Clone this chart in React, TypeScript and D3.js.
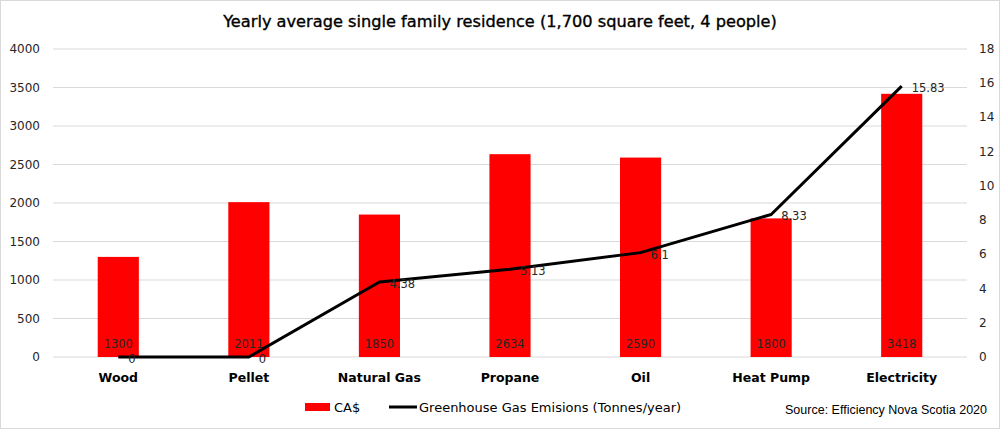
import React from "react";
import * as d3 from "d3";

const categories = ["Wood", "Pellet", "Natural Gas", "Propane", "Oil", "Heat Pump", "Electricity"];
const costCAD = [1300, 2011, 1850, 2634, 2590, 1800, 3418];
const emissions = [0, 0, 4.38, 5.13, 6.1, 8.33, 15.83];
const leftTicks = [0, 500, 1000, 1500, 2000, 2500, 3000, 3500, 4000];
const rightTicks = [0, 2, 4, 6, 8, 10, 12, 14, 16, 18];
const title = "Yearly average single family residence (1,700 square feet, 4 people)";
const barSeriesName = "CA$";
const lineSeriesName = "Greenhouse Gas Emisions (Tonnes/year)";
const sourceNote = "Source: Efficiency Nova Scotia 2020";

const W = 1000;
const H = 429;
const FONT = "'DejaVu Sans', Verdana, sans-serif";

export default function App() {
  const x = d3.scaleBand<string>().domain(categories).range([53, 967]).padding(0);
  const yL = d3.scaleLinear().domain([0, 4000]).range([357, 49]);
  const yR = d3.scaleLinear().domain([0, 18]).range([357, 49]);
  const bw = x.bandwidth() * 0.315;
  const cx = (c: string) => (x(c) as number) + x.bandwidth() / 2;

  const line = d3
    .line<number>()
    .x((_, i) => cx(categories[i]))
    .y((d) => yR(d));

  return (
    <svg
      width={W}
      height={H}
      style={{ position: "absolute", left: 0, top: 0, background: "#fff" }}
      fontFamily={FONT}
    >
      <rect x={0.5} y={0.5} width={W - 1} height={H - 1} fill="#fff" stroke="#d9d9d9" />
      <text x={500} y={21} textAnchor="middle" dominantBaseline="central" fontSize={16.2} fill="#000" stroke="#000" strokeWidth={0.35}>
        {title}
      </text>

      {leftTicks.map((t) => (
        <g key={"g" + t}>
          <line x1={53} x2={967} y1={yL(t)} y2={yL(t)} stroke="#d9d9d9" strokeWidth={1} />
          <text x={40} y={yL(t)} textAnchor="end" dominantBaseline="central" fontSize={12} fill="#262626">
            {t}
          </text>
        </g>
      ))}
      {rightTicks.map((t) => (
        <text key={"r" + t} x={979} y={yR(t)} textAnchor="start" dominantBaseline="central" fontSize={12} fill="#262626">
          {t}
        </text>
      ))}

      {categories.map((c, i) => (
        <g key={c}>
          <rect x={cx(c) - bw / 2} y={yL(costCAD[i])} width={bw} height={yL(0) - yL(costCAD[i])} fill="#ff0000" />
          <text x={cx(c)} y={377} textAnchor="middle" dominantBaseline="central" fontSize={12.5} fontWeight="bold" fill="#000">
            {c}
          </text>
          <text x={cx(c)} y={344} textAnchor="middle" dominantBaseline="central" fontSize={11.5} fill="#262626">
            {costCAD[i]}
          </text>
        </g>
      ))}

      <path d={line(emissions) || ""} fill="none" stroke="#000" strokeWidth={3} strokeLinejoin="round" />
      {categories.map((c, i) => (
        <text key={"l" + c} x={cx(c) + 10} y={yR(emissions[i]) + 2} textAnchor="start" dominantBaseline="central" fontSize={11.5} fill="#262626">
          {emissions[i]}
        </text>
      ))}

      <rect x={305} y={403} width={25} height={8} fill="#ff0000" />
      <text x={334} y={407} dominantBaseline="central" fontSize={13} fill="#000">
        {barSeriesName}
      </text>
      <line x1={389} x2={417} y1={407} y2={407} stroke="#000" strokeWidth={3} />
      <text x={419} y={407} dominantBaseline="central" fontSize={13} fill="#000">
        {lineSeriesName}
      </text>
      <text x={987} y={410} textAnchor="end" dominantBaseline="central" fontSize={12.5} fontFamily="'Liberation Sans', Arial, sans-serif" fill="#000">
        {sourceNote}
      </text>
    </svg>
  );
}
